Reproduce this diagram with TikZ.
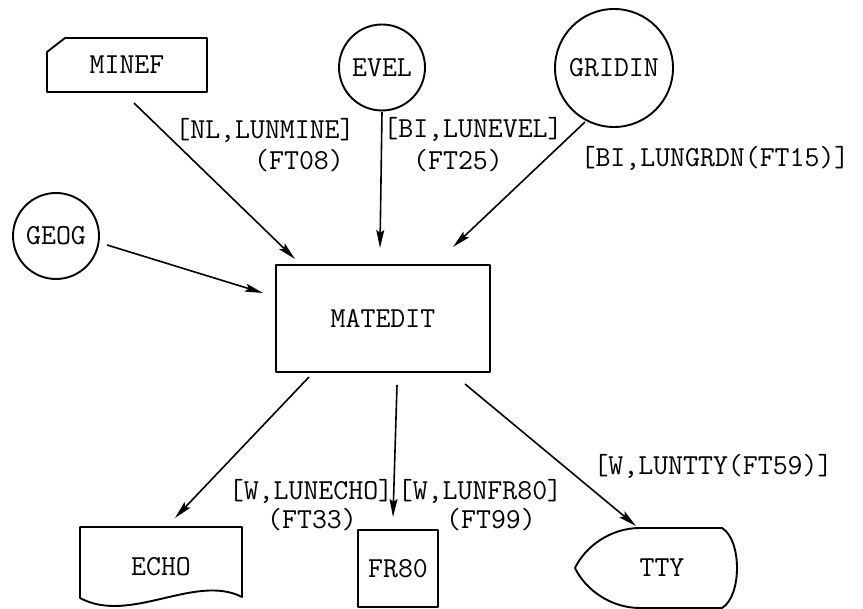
\documentclass[tikz,border=0pt]{standalone}
\usetikzlibrary{arrows.meta,calc}
\begin{document}
\begin{tikzpicture}[x=1pt,y=1pt,
  every node/.style={font=\fontsize{29}{32}\selectfont\ttfamily},
  frame/.style={inner sep=0pt, outer sep=0pt},
  outline/.style={line width=1.9pt, line join=round},
  flow/.style={line width=1.6pt, -{Stealth[length=18pt,width=8pt,inset=3pt]}},
  lbl/.style={anchor=base, inner sep=0pt, text height=19pt, text depth=0pt}]
\useasboundingbox (0,0) rectangle (863,609);

% input files and the program
\node[frame, minimum width=160pt, minimum height=54pt] (minef) at (127,544) {MINEF};
\draw[outline] ($(minef.north west)+(0,-14)$) -- ($(minef.north west)+(18,0)$)
  -- (minef.north east) -- (minef.south east) -- (minef.south west) -- cycle;
\node[frame, circle, draw, outline, minimum size=86pt] (evel) at (382,541.5) {EVEL};
\node[frame, circle, draw, outline, minimum size=118pt] (gridin) at (614,541) {GRIDIN};
\node[frame, circle, draw, outline, minimum size=86pt] (geog) at (56,373) {GEOG};
\node[frame, draw, outline, minimum width=214pt, minimum height=107pt] (matedit) at (383,290.5) {MATEDIT};

% output files
\node[frame, minimum width=162pt, minimum height=80pt] (echo) at (161,42) {ECHO};
\draw[outline] (echo.north west) -- (echo.north east) -- ($(echo.south east)+(0,10)$)
  .. controls ($(echo.south west)+(115,34)$) and ($(echo.south west)+(50,-18)$) ..
  ($(echo.south west)+(0,9)$) -- cycle;
\node[frame, draw, outline, minimum width=80pt, minimum height=77pt] (fr80) at (398,40.5) {FR80};
\node[frame, minimum width=162pt, minimum height=80pt, label={[xshift=6pt]center:TTY}] (tty) at (656,41) {};
\draw[outline] ($(tty.north west)+(65,0)$) -- ($(tty.north east)+(-15,0)$)
  .. controls ($(tty.north east)+(5,-12)$) and ($(tty.south east)+(5,12)$) .. ($(tty.south east)+(-15,0)$)
  -- ($(tty.south west)+(65,0)$)
  .. controls ($(tty.south west)+(35,0)$) and ($(tty.west)+(10,-21)$) .. (tty.west)
  .. controls ($(tty.west)+(10,21)$) and ($(tty.north west)+(35,0)$) .. ($(tty.north west)+(65,0)$);

% data flow
\draw[flow] ($(minef.south)+(7,-11)$) -- ($(matedit.north)+(-88,6)$);
\draw[flow] ($(evel.south)+(0,-1.5)$) -- ($(matedit.north)+(-3,17)$);
\draw[flow] ($(gridin.center)+(-29,-54)$) -- ($(matedit.north)+(70,18)$);
\draw[flow] ($(geog.center)+(51,-9)$) -- ($(matedit.west)+(-13,25.5)$);
\draw[flow] ($(matedit.south)+(-74,-5)$) -- ($(echo.north)+(14,9)$);
\draw[flow] ($(matedit.south)+(14,-13)$) -- ($(fr80.north)+(-5,13)$);
\draw[flow] ($(matedit.south)+(82,-12)$) -- ($(tty.north)+(-20,2)$);

% unit labels
\node[lbl] (l1a) at (265,470) {[NL,LUNMINE]};
\node[lbl] (l1b) at (299,439) {(FT08)};
\node[lbl] (l2a) at (473,471) {[BI,LUNEVEL]};
\node[lbl] (l2b) at (458,439) {(FT25)};
\node[lbl] (l3)  at (715,442) {[BI,LUNGRDN(FT15)]};
\node[lbl] (l5a) at (311,109) {[W,LUNECHO]};
\node[lbl] (l5b) at (312,80)  {(FT33)};
\node[lbl] (l6a) at (480,109) {[W,LUNFR80]};
\node[lbl] (l6b) at (491,80)  {(FT99)};
\node[lbl] (l7)  at (713,134) {[W,LUNTTY(FT59)]};
\end{tikzpicture}
\end{document}
